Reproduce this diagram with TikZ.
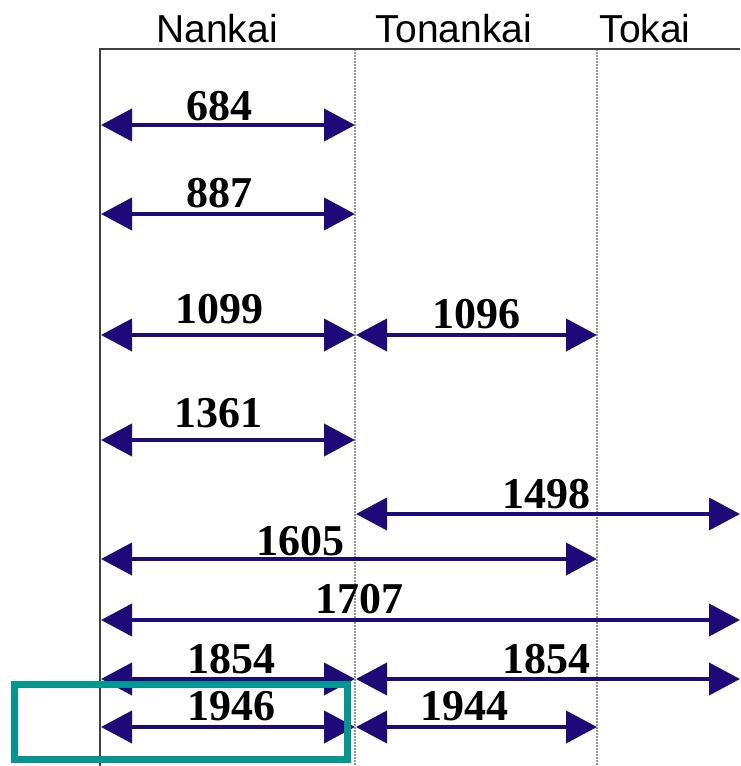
\documentclass[tikz,border=0pt]{standalone}
\usepackage{fontspec}
\setmainfont{Liberation Serif}
\newfontfamily\hdrfont{Liberation Sans}
\usetikzlibrary{arrows.meta}
\definecolor{arr}{RGB}{30,10,120}
\definecolor{tealbox}{RGB}{0,150,145}
\definecolor{gridgray}{RGB}{150,150,150}
\begin{document}
\begin{tikzpicture}[x=1pt,y=1pt,
  span/.style={draw=arr, line width=4pt,
    {Triangle[length=31pt 0 0,width=32pt 0 0]}-{Triangle[length=31pt 0 0,width=32pt 0 0]}},
  yr/.style={font=\fontsize{44}{44}\selectfont\bfseries, inner sep=0pt, anchor=base},
  hdr/.style={font=\hdrfont\fontsize{39}{39}\selectfont, inner sep=0pt, anchor=base},
  divider/.style={draw=gridgray, line width=1.3pt, dash pattern=on 1.5pt off 1.5pt},
  frame/.style={draw=black!75, line width=1.6pt},
  mark box/.style={draw=tealbox, line width=7pt}]
\useasboundingbox (0,0) rectangle (740,-766);
\fill[white] (0,0) rectangle (740,-766);

% headers
\node[hdr] (hN) at (217,-42) {Nankai};
\node[hdr] (hT) at (454,-42) {Tonankai};
\node[hdr] (hK) at (645,-42) {Tokai};

% frame and dividers
\coordinate (tl) at (100,-49);
\coordinate (tr) at (740,-49);
\coordinate (bl) at (100,-766);
\coordinate (d1t) at (355,-49);
\coordinate (d1b) at (355,-766);
\coordinate (d2t) at (597,-49);
\coordinate (d2b) at (597,-766);
\draw[divider] (d1t) -- (d1b);
\draw[divider] (d2t) -- (d2b);
\draw[frame] (bl) -- (tl) -- (tr);

% arrow end points
\foreach \n/\y in {a/125,b/214,c/335,d/440,e/514,f/559,g/620,h/679,i/727}{
  \coordinate (\n0) at (101,-\y);
  \coordinate (\n1) at (355,-\y);
  \coordinate (\n2) at (356,-\y);
  \coordinate (\n3) at (597,-\y);
  \coordinate (\n4) at (740,-\y);
}

% spans
\draw[span] (a0) -- (a1);
\draw[span] (b0) -- (b1);
\draw[span] (c0) -- (c1);
\draw[span] (c2) -- (c3);
\draw[span] (d0) -- (d1);
\draw[span] (e2) -- (e4);
\draw[span] (f0) -- (f3);
\draw[span] (g0) -- (g4);
\draw[span] (h0) -- (h1);
\draw[span] (h2) -- (h4);
\draw[span] (i0) -- (i1);
\draw[span] (i2) -- (i3);

% labels
\node[yr] (l684)  at (219,-120) {684};
\node[yr] (l887)  at (219,-207) {887};
\node[yr] (l1099) at (219,-323) {1099};
\node[yr] (l1096) at (476,-328) {1096};
\node[yr] (l1361) at (218,-427) {1361};
\node[yr] (l1498) at (546,-508) {1498};
\node[yr] (l1605) at (300,-555) {1605};
\node[yr] (l1707) at (359,-613) {1707};
\node[yr] (l1854a) at (231,-673) {1854};
\node[yr] (l1854b) at (546,-673) {1854};
\node[yr] (l1946) at (231,-720) {1946};
\node[yr] (l1944) at (464,-720) {1944};

% highlight box
\draw[mark box] (14,-684) rectangle (347,-759);
\end{tikzpicture}
\end{document}
